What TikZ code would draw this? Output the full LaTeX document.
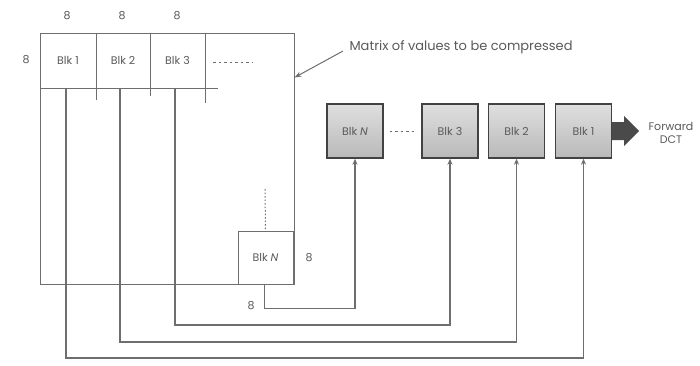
\documentclass[tikz,border=0pt]{standalone}
\usepackage{fontspec}
\setmainfont{Poppins}
\usetikzlibrary{arrows.meta}
\definecolor{ln}{HTML}{6E6E6E}
\definecolor{tx}{HTML}{5A5A5A}
\definecolor{arr}{HTML}{4A4A4A}
\begin{document}
\begin{tikzpicture}[x=1pt,y=-1pt,
  every node/.style={text=tx,font=\fontsize{11}{13}\selectfont},
  cell/.style={minimum width=55pt, minimum height=55pt, inner sep=0pt},
  blk/.style={draw=ln!60!black, line width=1.4pt, top color=gray!25, bottom color=gray!55, minimum width=56pt, minimum height=54pt, inner sep=0pt},
  conn/.style={draw=ln, line width=1.8pt, -{Stealth[length=6pt,width=5pt]}},
  frame/.style={draw=ln, line width=1pt}]
\useasboundingbox[fill=white] (0,0) rectangle (700,365);
% matrix
\node[frame, minimum width=254pt, minimum height=251pt, inner sep=0pt] (mat) at (167,158.5) {};
\node[cell] (b1) at (68,60.5) {Blk 1};
\node[cell] (b2) at (123,60.5) {Blk 2};
\node[cell] (b3) at (177.5,60.5) {Blk 3};
\draw[frame] (40,88) -- (218,88);
\draw[frame] (96,33) -- (96,100);
\draw[frame] (150,33) -- (150,96);
\draw[frame] (205,33) -- (205,103);
\draw[ln, line width=1pt, dash pattern=on 2.5pt off 3pt] (213,62) -- (252,62);
\node[cell, frame, minimum width=55pt, minimum height=53pt] (bn) at (265.5,257.5) {Blk \textit{N}};
\draw[ln, line width=1pt, dash pattern=on 1.5pt off 2pt] (265,189) -- (bn.north);
% dimension labels
\node (d1) at (67,16) {8};
\node (d2) at (122,16) {8};
\node (d3) at (177,16) {8};
\node (d4) at (26,60) {8};
\node (d5) at (309,258) {8};
\node (d6) at (251,306) {8};
% label
\node[anchor=west, font=\fontsize{13}{15}\selectfont] (lab) at (346,47) {Matrix of values to be compressed};
\draw[ln, line width=1pt, -{Stealth[length=7pt,width=5pt]}] (lab.west) ++(-3,4) -- ([yshift=-45pt]mat.north east);
% output blocks
\node[blk] (rN) at (355,131) {Blk \textit{N}};
\node[blk] (r3) at (450,131) {Blk 3};
\node[blk] (r2) at (516.5,131) {Blk 2};
\node[blk] (r1) at (583.5,131) {Blk 1};
\draw[ln, line width=1pt, dash pattern=on 2.5pt off 3pt] ([xshift=6pt]rN.east) -- ([xshift=-5pt]r3.west);
% connectors
\draw[conn] ([xshift=-2pt]b1.south) -- ++(0,270) -| (r1.south);
\draw[conn] ([xshift=-3pt]b2.south) -- ++(0,254) -| (r2.south);
\draw[conn] ([xshift=-2.5pt]b3.south) -- ++(0,237) -| (r3.south);
\draw[conn] ([xshift=-1pt]bn.south) -- ++(0,24) -| (rN.south);
% forward arrow
\fill[arr] ([yshift=9pt]r1.east) -- ++(12,0) -- ++(0,-6) -- ++(15,15) -- ++(-15,15) -- ++(0,-6) -- ++(-12,0) -- cycle;
\node[align=center] (fdct) at (671,133) {Forward\\DCT};
\end{tikzpicture}
\end{document}
